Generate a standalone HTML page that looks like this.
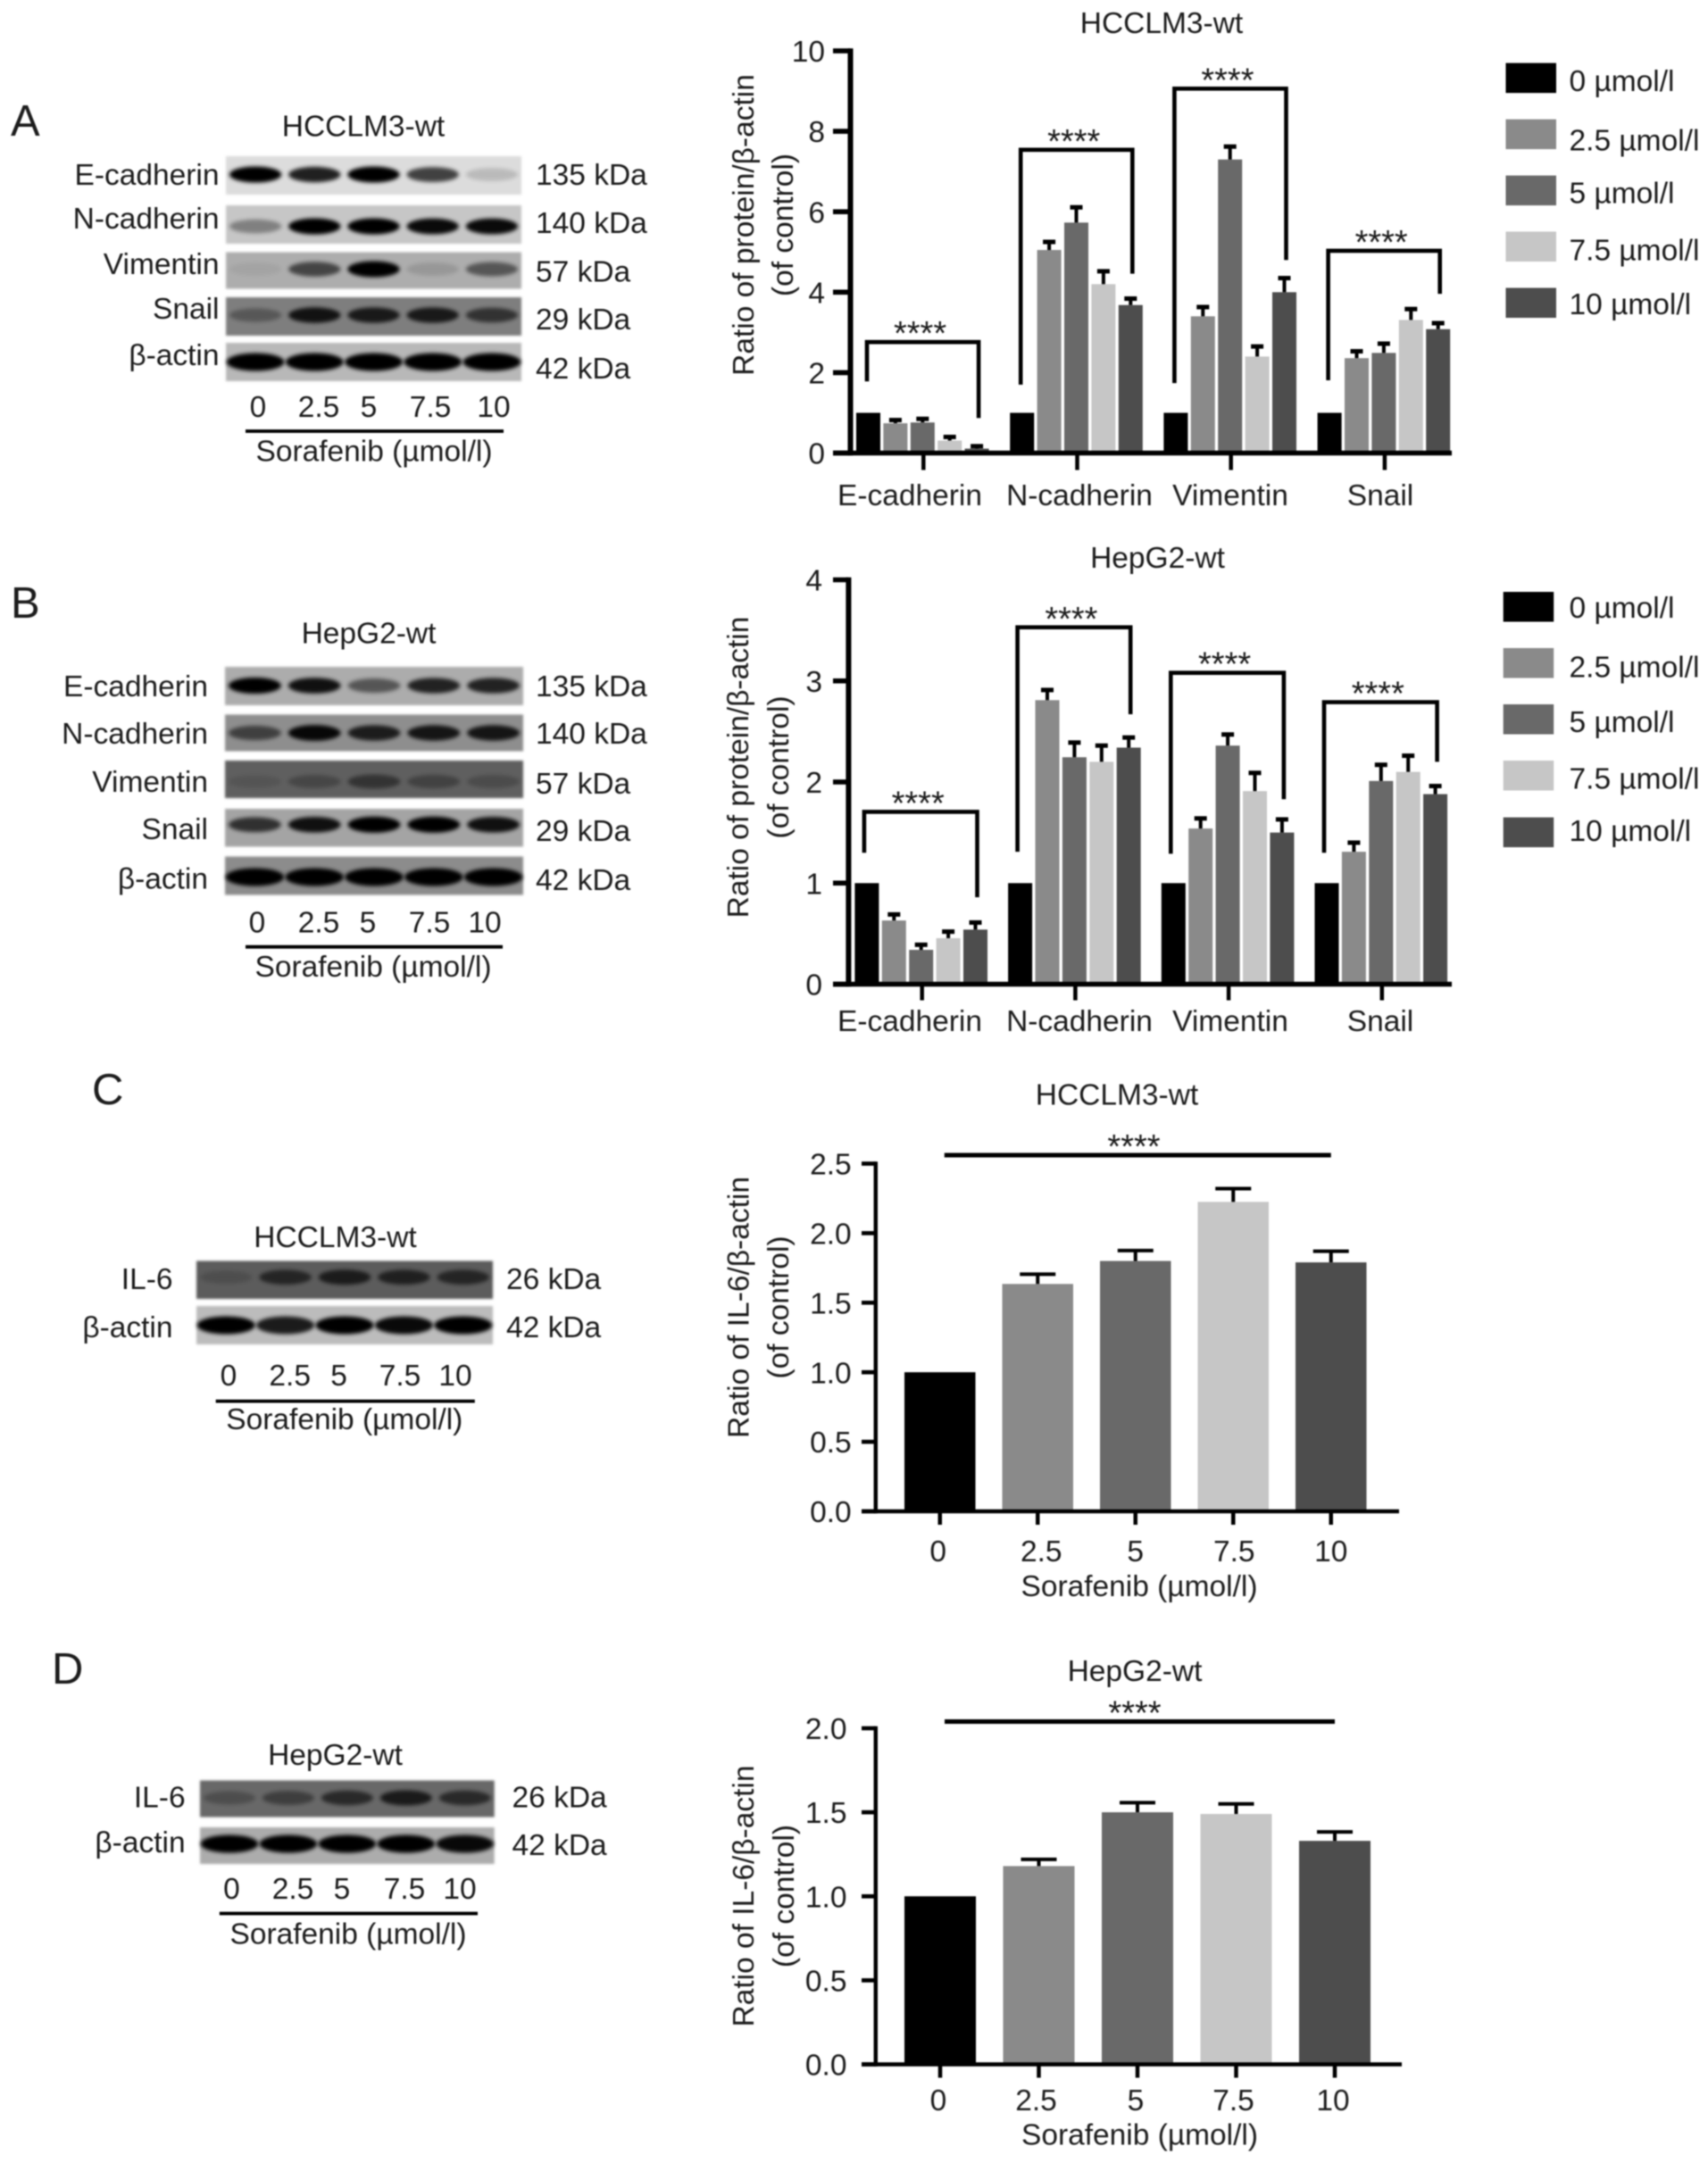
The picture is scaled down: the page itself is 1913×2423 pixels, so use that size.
<!DOCTYPE html>
<html lang="en">
<head>
<meta charset="utf-8">
<title>Sorafenib western blots and quantification</title>
<style>
html,body{margin:0;padding:0;background:#fff;}
body{width:1913px;height:2423px;overflow:hidden;}
#figure{display:block;filter:blur(0.9px);}
text{font-family:"Liberation Sans","DejaVu Sans",sans-serif;fill:#1c1c1c;}
</style>
</head>
<body>
<svg id="figure" xmlns="http://www.w3.org/2000/svg" width="1913" height="2423" viewBox="0 0 1913 2423">
<defs>
<filter id="bandBlur" x="-30%" y="-80%" width="160%" height="260%"><feGaussianBlur stdDeviation="2.2"/></filter>
<filter id="bgBlur" x="-5%" y="-15%" width="110%" height="130%"><feGaussianBlur stdDeviation="1.4"/></filter>
</defs>
</svg>
<script>
/* ---------- chart data ---------- */
const proteinCategories = ['E-cadherin', 'N-cadherin', 'Vimentin', 'Snail'];
const doseLegendLabels = ['0 µmol/l', '2.5 µmol/l', '5 µmol/l', '7.5 µmol/l', '10 µmol/l'];
const doseTickLabels = ['0', '2.5', '5', '7.5', '10'];
const barColors = ['#000000', '#8a8a8a', '#696969', '#c6c6c6', '#4d4d4d'];

/* Panel A: value per category for each dose, plus top of the error bar */
const a_ticks = ['0', '2', '4', '6', '8', '10'];
const a_dose0 = [1, 1, 1, 1];
const a_dose25 = [0.74, 5.05, 3.4, 2.36];
const a_dose5 = [0.76, 5.73, 7.3, 2.49];
const a_dose75 = [0.31, 4.2, 2.4, 3.31];
const a_dose10 = [0.11, 3.68, 4.0, 3.08];
const a_err25 = [0.82, 5.25, 3.63, 2.53];
const a_err5 = [0.85, 6.11, 7.62, 2.72];
const a_err75 = [0.40, 4.52, 2.65, 3.58];
const a_err10 = [0.17, 3.84, 4.35, 3.23];
const a_bracketTop = [2.76, 7.54, 9.06, 5.03];
const a_bracketLeftEnd = [1.78, 1.70, 1.74, 1.81];
const a_bracketRightEnd = [0.87, 4.46, 4.8, 3.96];

/* Panel B */
const b_ticks = ['0', '1', '2', '3', '4'];
const b_dose0 = [1, 1, 1, 1];
const b_dose25 = [0.63, 2.81, 1.54, 1.31];
const b_dose5 = [0.34, 2.245, 2.36, 2.01];
const b_dose75 = [0.455, 2.2, 1.91, 2.10];
const b_dose10 = [0.54, 2.34, 1.5, 1.88];
const b_err25 = [0.69, 2.91, 1.64, 1.40];
const b_err5 = [0.39, 2.39, 2.47, 2.17];
const b_err75 = [0.52, 2.36, 2.09, 2.26];
const b_err10 = [0.61, 2.44, 1.63, 1.96];
const b_bracketTop = [1.705, 3.53, 3.08, 2.79];
const b_bracketLeftEnd = [1.30, 1.31, 1.29, 1.30];
const b_bracketRightEnd = [0.86, 2.67, 1.83, 2.2];

/* Panel C */
const c_ticks = ['0.0', '0.5', '1.0', '1.5', '2.0', '2.5'];
const c_values = [1, 1.635, 1.8, 2.225, 1.79];
const c_errTop = [1, 1.705, 1.875, 2.32, 1.87];

/* Panel D */
const d_ticks = ['0.0', '0.5', '1.0', '1.5', '2.0'];
const d_values = [1, 1.18, 1.5, 1.49, 1.33];
const d_errTop = [1, 1.22, 1.557, 1.55, 1.383];

/* Blot band intensities per lane (0-1) */
const blotA_ecad = [1, 0.85, 1, 0.7, 0.15];
const blotA_ncad = [0.35, 1, 1, 0.95, 0.95];
const blotA_vim = [0.05, 0.6, 1, 0.12, 0.5];
const blotA_snail = [0.3, 0.85, 0.8, 0.8, 0.6];
const blotA_actin = [1, 1, 1, 1, 1];
const blotB_ecad = [1, 0.9, 0.5, 0.8, 0.8];
const blotB_ncad = [0.55, 0.95, 0.8, 0.85, 0.85];
const blotB_vim = [0.1, 0.25, 0.45, 0.3, 0.2];
const blotB_snail = [0.7, 0.9, 1, 1, 0.9];
const blotB_actin = [1, 1, 1, 1, 1];
const blotC_il6 = [0.15, 0.6, 0.7, 0.65, 0.6];
const blotC_actin = [1, 0.85, 1, 0.95, 1];
const blotD_il6 = [0.25, 0.4, 0.6, 0.75, 0.6];
const blotD_actin = [1, 1, 1, 1, 0.95];

/* ---------- helpers ---------- */
const NS = 'http://www.w3.org/2000/svg';
const FS = 33.5;
const svg = document.getElementById('figure');

function mk(parent, tag, attrs) {
  const el = document.createElementNS(NS, tag);
  for (const k in attrs) el.setAttribute(k, attrs[k]);
  parent.appendChild(el);
  return el;
}
function mkText(parent, str, x, cy, size, anchor) {
  const el = mk(parent, 'text', {x: x, y: cy + 0.36 * size, 'font-size': size, 'text-anchor': anchor || 'middle'});
  el.textContent = str;
  return el;
}
function mkRotText(parent, str, cx, cy, size) {
  const bx = cx + 0.3 * size;
  const el = mk(parent, 'text', {x: bx, y: cy, 'font-size': size, 'text-anchor': 'middle', transform: 'rotate(-90 ' + bx + ' ' + cy + ')'});
  el.textContent = str;
  return el;
}
function mkLine(parent, x1, y1, x2, y2, w, color) {
  return mk(parent, 'line', {x1: x1, y1: y1, x2: x2, y2: y2, stroke: color || '#000', 'stroke-width': w});
}
function mkStars(parent, cx, cy, size) {
  const el = mk(parent, 'text', {x: cx, y: cy + 0.58 * size, 'font-size': size, 'text-anchor': 'middle'});
  el.textContent = '****';
  return el;
}
function mkGroup(name) {
  const g = mk(svg, 'g', {});
  
  
  return g;
}
function linear(d0, d1, r0, r1) {
  return function (v) { return r0 + (v - d0) * (r1 - r0) / (d1 - d0); };
}

/* ---------- y axis shared by all charts ---------- */
function drawYAxis(g, c, ticks, yScale) {
  const axis = mkLine(g, c.axisX, c.yTop - c.axisH / 2, c.axisX, c.y0 + c.axisH / 2, c.axisW);
  
  
  const base = mkLine(g, c.xAxisL, c.y0, c.xAxisR, c.y0, c.axisH);
  
  
  ticks.forEach(function (t) {
    const y = yScale(parseFloat(t));
    const tk = mkLine(g, c.xAxisL, y, c.axisX, y, c.axisH);
    
    
    const lb = mkText(g, t, c.tickLabelR, y, FS, 'end');
    
    
  });
}
function drawTitles(g, c) {
  const t = mkText(g, c.title, c.titleX, c.titleY, FS);
  
  
  const y1 = mkRotText(g, c.yTitle, c.yTitleX1, c.yTitleY, FS);
  
  
  const y2 = mkRotText(g, '(of control)', c.yTitleX2, c.yTitleY, FS);
  
  
}
function drawErr(g, x, yTopErr, yBar, cap, stem, capH) {
  const s = mkLine(g, x, yBar, x, yTopErr, stem);
  
  
  const c = mkLine(g, x - cap / 2, yTopErr, x + cap / 2, yTopErr, capH);
  
  
}

/* ---------- grouped bar chart (A, B) ---------- */
function drawGrouped(name, c, ticks, series, errs, brTop, brL, brR) {
  const g = mkGroup(name);
  const max = parseFloat(ticks[ticks.length - 1]);
  const y = linear(0, max, c.y0, c.yTop);
  const xBar = function (gi, si) { return c.x0 + gi * c.groupPitch + si * c.barPitch; };
  drawTitles(g, c);
  proteinCategories.forEach(function (cat, gi) {
    series.forEach(function (vals, si) {
      const top = y(vals[gi]);
      const b = mk(g, 'rect', {x: xBar(gi, si), y: top, width: c.barW, height: c.y0 - top, fill: barColors[si]});
      
      
      if (errs[si]) {
        drawErr(g, xBar(gi, si) + c.barW / 2, y(errs[si][gi]), top, 14, 4, 5);
      }
    });
    const bl = xBar(gi, 0) + c.barW / 2 + c.brOffset;
    const br = xBar(gi, 4) + c.barW / 2 + 2;
    const path = mk(g, 'path', {
      d: 'M' + bl + ' ' + y(brL[gi]) + 'V' + y(brTop[gi]) + 'H' + br + 'V' + y(brR[gi]),
      fill: 'none', stroke: '#000', 'stroke-width': 4.6
    });
    
    
    const st = mkStars(g, (bl + br) / 2 - 3, y(brTop[gi]) - 19, 38);
    
    
    const tx = xBar(gi, 2) + c.barW / 2 + 1;
    const tk = mkLine(g, tx, c.y0, tx, c.tickBottom, 4.5);
    
    
    const lb = mkText(g, cat, c.catX[gi], c.catY, FS);
    
    
  });
  drawYAxis(g, c, ticks, y);
  doseLegendLabels.forEach(function (lab, i) {
    const sw = mk(g, 'rect', {x: c.legX, y: c.legY[i], width: 56.5, height: 33.5, fill: barColors[i]});
    
    
    const t = mkText(g, lab, c.legTextX, c.legTextY[i], FS, 'start');
    
    
  });
}

/* ---------- simple bar chart (C, D) ---------- */
function drawSimple(name, c, ticks, values, errTop) {
  const g = mkGroup(name);
  const max = parseFloat(ticks[ticks.length - 1]);
  const y = linear(0, max, c.y0, c.yTop);
  const xBar = function (i) { return c.x0 + i * c.barPitch; };
  drawTitles(g, c);
  values.forEach(function (v, i) {
    const top = y(v);
    const b = mk(g, 'rect', {x: xBar(i), y: top, width: c.barW, height: c.y0 - top, fill: barColors[i]});
    
    
    if (errTop[i] > v) {
      drawErr(g, xBar(i) + c.barW / 2, y(errTop[i]), top, 40, 4, 4);
    }
    const tx = xBar(i) + c.barW / 2;
    const tk = mkLine(g, tx, c.y0, tx, c.tickBottom, 4.5);
    
    
    const lb = mkText(g, doseTickLabels[i], tx + c.labelDx[i], c.catY, FS);
    
    
  });
  drawYAxis(g, c, ticks, y);
  const sl = mkLine(g, xBar(0) + c.barW / 2 + 5, c.sigY, xBar(4) + c.barW / 2, c.sigY, 5);
  
  
  const st = mkStars(g, c.starX, c.sigY - 19, 38);
  
  
  const xt = mkText(g, 'Sorafenib (µmol/l)', c.xTitleX, c.xTitleY, FS);
  
  
}

/* ---------- western blot ---------- */
function drawBlot(name, b) {
  const g = mkGroup(name);
  const letter = mkText(g, b.letter, b.letterX, b.letterY, 49, 'start');
  
  
  const title = mkText(g, b.title, b.titleX, b.titleY, FS);
  
  
  const w = b.right - b.left;
  b.rows.forEach(function (r) {
    const cy = (r.top + r.bottom) / 2 + r.dy;
    const bg = mk(g, 'rect', {x: b.left, y: r.top, width: w, height: r.bottom - r.top, fill: r.bg, filter: 'url(#bgBlur)'});
    
    
    r.bands.forEach(function (s, i) {
      const cx = b.left + (i + 0.5) * w / 5;
      const rx = w / 5 * (r.wide ? 0.49 : 0.44);
      const ry = r.wide ? 10 : 7 + s * 2;
      const band = mk(g, 'ellipse', {cx: cx, cy: cy, rx: rx, ry: ry, fill: '#000', opacity: s, filter: 'url(#bandBlur)'});
      
      
    });
    const lab = mkText(g, r.label, b.labelR, r.labelY, FS, 'end');
    
    
    const kda = mkText(g, r.kda, b.kdaX, r.kdaY, FS, 'start');
    
    
  });
  doseTickLabels.forEach(function (t, i) {
    const l = mkText(g, t, b.laneX[i], b.laneY, FS);
    
    
  });
  const ln = mkLine(g, b.lineL, b.lineY, b.lineR, b.lineY, 3.8);
  
  
  const s = mkText(g, 'Sorafenib (µmol/l)', b.sorX, b.sorY, FS);
  
  
}

/* ---------- panels ---------- */
drawBlot('blot-panel-a', {
  letter: 'A', letterX: 12, letterY: 134.5, title: 'HCCLM3-wt', titleX: 407, titleY: 140.5,
  left: 253, right: 584, labelR: 245.5, kdaX: 600,
  laneX: [289, 357, 413, 482, 553], laneY: 455, lineL: 275, lineR: 564, lineY: 483, sorX: 419, sorY: 504.5,
  rows: [
    {name: 'e-cadherin', label: 'E-cadherin', kda: '135 kDa', top: 175, bottom: 218, dy: -1, bg: '#dcdcdc', bands: blotA_ecad, labelY: 194.7, kdaY: 194.7},
    {name: 'n-cadherin', label: 'N-cadherin', kda: '140 kDa', top: 230, bottom: 273, dy: 2, bg: '#c6c6c6', bands: blotA_ncad, labelY: 244, kdaY: 249},
    {name: 'vimentin', label: 'Vimentin', kda: '57 kDa', top: 282.5, bottom: 323.5, dy: -1.5, bg: '#adadad', bands: blotA_vim, labelY: 294.7, kdaY: 303.4},
    {name: 'snail', label: 'Snail', kda: '29 kDa', top: 333, bottom: 376, dy: -1.5, bg: '#7e7e7e', bands: blotA_snail, labelY: 344.7, kdaY: 357},
    {name: 'beta-actin', label: 'β-actin', kda: '42 kDa', top: 384, bottom: 427, dy: 0, bg: '#b8b8b8', bands: blotA_actin, labelY: 397, kdaY: 412, wide: true}
  ]
});
drawBlot('blot-panel-b', {
  letter: 'B', letterX: 12, letterY: 674.5, title: 'HepG2-wt', titleX: 413, titleY: 708.5,
  left: 252, right: 586, labelR: 233, kdaX: 600,
  laneX: [288, 357, 412, 481, 543], laneY: 1032.5, lineL: 275, lineR: 563, lineY: 1060.7, sorX: 418, sorY: 1081.7,
  rows: [
    {name: 'e-cadherin', label: 'E-cadherin', kda: '135 kDa', top: 747, bottom: 790, dy: -0.5, bg: '#acacac', bands: blotB_ecad, labelY: 768, kdaY: 768},
    {name: 'n-cadherin', label: 'N-cadherin', kda: '140 kDa', top: 800.5, bottom: 841.5, dy: 0, bg: '#8e8e8e', bands: blotB_ncad, labelY: 821, kdaY: 821},
    {name: 'vimentin', label: 'Vimentin', kda: '57 kDa', top: 852, bottom: 894, dy: 2.5, bg: '#5e5e5e', bands: blotB_vim, labelY: 875, kdaY: 876.7},
    {name: 'snail', label: 'Snail', kda: '29 kDa', top: 906, bottom: 948.5, dy: -3.5, bg: '#a4a4a4', bands: blotB_snail, labelY: 928, kdaY: 930},
    {name: 'beta-actin', label: 'β-actin', kda: '42 kDa', top: 959.5, bottom: 1002.5, dy: 1.5, bg: '#8c8c8c', bands: blotB_actin, labelY: 983.5, kdaY: 984.7, wide: true}
  ]
});
drawBlot('blot-panel-c', {
  letter: 'C', letterX: 103, letterY: 1219.5, title: 'HCCLM3-wt', titleX: 375.5, titleY: 1385,
  left: 220, right: 552, labelR: 193.5, kdaX: 567,
  laneX: [256, 324.7, 379.6, 448, 510], laneY: 1540, lineL: 241.7, lineR: 531.8, lineY: 1569.6, sorX: 385.8, sorY: 1589,
  rows: [
    {name: 'il-6', label: 'IL-6', kda: '26 kDa', top: 1412.5, bottom: 1455, dy: -3, bg: '#5c5c5c', bands: blotC_il6, labelY: 1432, kdaY: 1432},
    {name: 'beta-actin', label: 'β-actin', kda: '42 kDa', top: 1463, bottom: 1506, dy: 0, bg: '#bcbcbc', bands: blotC_actin, labelY: 1486, kdaY: 1486, wide: true}
  ]
});
drawBlot('blot-panel-d', {
  letter: 'D', letterX: 58, letterY: 1868.5, title: 'HepG2-wt', titleX: 375.5, titleY: 1965,
  left: 224, right: 553.7, labelR: 207.6, kdaX: 573.5,
  laneX: [259.5, 328, 383, 453, 515], laneY: 2115, lineL: 245.8, lineR: 535, lineY: 2143.5, sorX: 390, sorY: 2165.5,
  rows: [
    {name: 'il-6', label: 'IL-6', kda: '26 kDa', top: 1994.5, bottom: 2035.5, dy: -1, bg: '#686868', bands: blotD_il6, labelY: 2012.5, kdaY: 2012.5},
    {name: 'beta-actin', label: 'β-actin', kda: '42 kDa', top: 2047, bottom: 2088, dy: -2, bg: '#acacac', bands: blotD_actin, labelY: 2063, kdaY: 2066, wide: true}
  ]
});

drawGrouped('chart-a-hcclm3', {
  title: 'HCCLM3-wt', titleX: 1301, titleY: 25,
  yTitle: 'Ratio of protein/β-actin', yTitleX1: 834, yTitleX2: 878, yTitleY: 252,
  axisX: 952.5, axisW: 6, axisH: 5.6, y0: 507.5, yTop: 57, xAxisL: 933, xAxisR: 1626, tickLabelR: 924,
  x0: 959, groupPitch: 172.2, barPitch: 30.4, barW: 27, tickBottom: 526.5, brOffset: -1.5,
  catX: [1019, 1209, 1378, 1546], catY: 554,
  legX: 1686.5, legY: [70.6, 133.6, 196.6, 259.5, 322.5], legTextX: 1757.5, legTextY: [90, 156.5, 215.6, 279.5, 339.7]
}, a_ticks, [a_dose0, a_dose25, a_dose5, a_dose75, a_dose10], [null, a_err25, a_err5, a_err75, a_err10], a_bracketTop, a_bracketLeftEnd, a_bracketRightEnd);

drawGrouped('chart-b-hepg2', {
  title: 'HepG2-wt', titleX: 1296.5, titleY: 624,
  yTitle: 'Ratio of protein/β-actin', yTitleX1: 828, yTitleX2: 873, yTitleY: 859.5,
  axisX: 950.4, axisW: 6, axisH: 5.6, y0: 1102.5, yTop: 649.5, xAxisL: 933, xAxisR: 1626, tickLabelR: 921,
  x0: 957.4, groupPitch: 171.7, barPitch: 30.4, barW: 27, tickBottom: 1120.5, brOffset: -3,
  catX: [1019, 1209, 1378, 1546], catY: 1142.8,
  legX: 1683.7, legY: [663, 726, 789, 852, 915.6], legTextX: 1757.5, legTextY: [680, 746.5, 808, 871.5, 930]
}, b_ticks, [b_dose0, b_dose25, b_dose5, b_dose75, b_dose10], [null, b_err25, b_err5, b_err75, b_err10], b_bracketTop, b_bracketLeftEnd, b_bracketRightEnd);

drawSimple('chart-c-hcclm3', {
  title: 'HCCLM3-wt', titleX: 1251, titleY: 1225.5,
  yTitle: 'Ratio of IL-6/β-actin', yTitleX1: 828.5, yTitleX2: 872.8, yTitleY: 1464.5,
  axisX: 980.8, axisW: 4.4, axisH: 4.6, y0: 1693, yTop: 1303.5, xAxisL: 965, xAxisR: 1567, tickLabelR: 953.7,
  x0: 1013, barPitch: 109.5, barW: 79.5, tickBottom: 1708,
  catY: 1737, labelDx: [-2, 4, 0, 1, 0],
  sigY: 1294, starX: 1270, xTitleX: 1276, xTitleY: 1776
}, c_ticks, c_values, c_errTop);

drawSimple('chart-d-hepg2', {
  title: 'HepG2-wt', titleX: 1271, titleY: 1870.8,
  yTitle: 'Ratio of IL-6/β-actin', yTitleX1: 833.7, yTitleX2: 879, yTitleY: 2124,
  axisX: 980.8, axisW: 4.4, axisH: 4.6, y0: 2312.5, yTop: 1936, xAxisL: 965, xAxisR: 1570, tickLabelR: 948.5,
  x0: 1013, barPitch: 110.5, barW: 80, tickBottom: 2327.5,
  catY: 2352, labelDx: [-2, -3, -2, -3, -2],
  sigY: 1928.5, starX: 1271, xTitleX: 1276.5, xTitleY: 2390.6
}, d_ticks, d_values, d_errTop);
</script>
</body>
</html>
